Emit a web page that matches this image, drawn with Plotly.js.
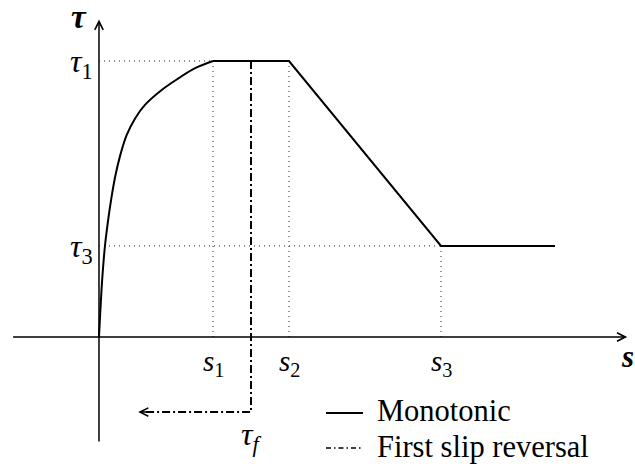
<!DOCTYPE html>
<html>
<head>
<meta charset="utf-8">
<script src="https://cdn.plot.ly/plotly-3.0.1.min.js"></script>
<style>
  html, body { margin: 0; padding: 0; background: #fff; }
  #chart { width: 635px; height: 468px; }
</style>
</head>
<body>
<div id="chart"></div>
<script>
// Bond stress (tau) versus slip (s): monotonic envelope and first slip reversal
// ascending branch up to s1
const riseS   = [0, 0.034, 0.087, 0.155, 0.235, 0.33, 0.435, 0.56, 0.73, 0.95, 1.21, 1.65, 2.09, 2.53, 3.0];
const riseTau = [0, 0.92, 2.14, 3.27, 4.18, 5.07, 5.87, 6.59, 7.32, 7.92, 8.41, 8.95, 9.37, 9.74, 10.0];
// plateau, softening branch and residual plateau
const restS   = [3.0, 5.0, 9.0, 12.0];
const restTau = [10.0, 10.0, 3.3, 3.3];

// characteristic slips and stresses
const s1 = 3.0, s2 = 5.0, s3 = 9.0;
const tau1 = 10.0, tau3 = 3.3;

// first slip reversal path (unload at s_f, then reverse to the left)
const revS   = [4.0, 4.0, 1.1];
const revTau = [10.0, -2.72, -2.72];
const revArrowTip = 1.03;

// axis extents
const sAxisFrom = -2.3, sAxisTo = 13.9;
const tauAxisFrom = -3.84, tauAxisTo = 11.5;

const FONT = '"Liberation Serif", "Times New Roman", "DejaVu Serif", serif';

const guideS = [0, s1, null, s1, s1, null, s2, s2, null, 0, s3, null, s3, s3];
const guideT = [tau1, tau1, null, 0, tau1, null, 0, tau1, null, tau3, tau3, null, 0, tau3];

const traces = [
  { x: guideS, y: guideT, mode: 'lines', name: 'guides', showlegend: false, hoverinfo: 'skip',
    line: { color: '#222', width: 1, dash: '1px,4px' } },
  { x: revS, y: revTau, mode: 'lines', name: 'First slip reversal', showlegend: false,
    line: { color: '#000', width: 2, dash: '8px,3px,2px,3px' } },
  { x: riseS, y: riseTau, mode: 'lines', name: 'Monotonic', showlegend: false,
    line: { color: '#000', width: 2, shape: 'spline', smoothing: 1 } },
  { x: restS, y: restTau, mode: 'lines', name: 'Monotonic', showlegend: false,
    line: { color: '#000', width: 2 } }
];

function arrow(x, y, ax, ay, w) {
  return { x: x, y: y, ax: ax, ay: ay, xref: 'x', yref: 'y', axref: 'x', ayref: 'y',
    text: '', showarrow: true, arrowhead: 5, arrowsize: 1.1, arrowwidth: w, arrowcolor: '#000', standoff: 0 };
}
function label(x, y, text, xa, size) {
  return { x: x, y: y, xref: 'x', yref: 'y', text: text, showarrow: false,
    xanchor: xa || 'center', yanchor: 'middle',
    font: { family: FONT, size: size || 29, color: '#000' } };
}

const annotations = [
  arrow(sAxisTo, 0, sAxisFrom, 0, 1.5),
  arrow(0, tauAxisTo, 0, tauAxisFrom, 1.5),
  arrow(revArrowTip, -2.72, 1.3, -2.72, 1.5),
  label(-0.52, 11.6, '<b><i>τ</i></b>', 'center', 33),
  label(13.92, -0.72, '<b><i>s</i></b>', 'center', 31),
  label(-0.1, tau1 - 0.1, '<i>τ</i><sub>1</sub>', 'right', 32),
  label(-0.1, tau3 - 0.1, '<i>τ</i><sub>3</sub>', 'right', 32),
  label(s1, -0.95, '<i>s</i><sub>1</sub>'),
  label(s2, -0.95, '<i>s</i><sub>2</sub>'),
  label(s3, -0.95, '<i>s</i><sub>3</sub>'),
  label(4.0, -3.62, '<i>τ</i><sub><i>f</i></sub>', 'center', 32),
  { x: 375 / 635, y: 1 - 411 / 468, xref: 'paper', yref: 'paper', text: 'Monotonic', showarrow: false,
    xanchor: 'left', yanchor: 'middle', font: { family: FONT, size: 30.5, color: '#000' } },
  { x: 375 / 635, y: 1 - 447 / 468, xref: 'paper', yref: 'paper', text: 'First slip reversal', showarrow: false,
    xanchor: 'left', yanchor: 'middle', font: { family: FONT, size: 30.5, color: '#000' } }
];

const shapes = [
  { type: 'line', xref: 'paper', yref: 'paper', x0: 326 / 635, x1: 363 / 635, y0: 1 - 413 / 468, y1: 1 - 413 / 468,
    line: { color: '#000', width: 2 } },
  { type: 'line', xref: 'paper', yref: 'paper', x0: 326 / 635, x1: 363 / 635, y0: 1 - 448 / 468, y1: 1 - 448 / 468,
    line: { color: '#000', width: 1.5, dash: '5px,3px,1.5px,3px' } }
];

const hidden = { showgrid: false, zeroline: false, showline: false, showticklabels: false, ticks: '', fixedrange: true };

const layout = {
  width: 635, height: 468,
  margin: { l: 0, r: 0, t: 0, b: 0, pad: 0 },
  paper_bgcolor: '#fff', plot_bgcolor: '#fff',
  showlegend: false,
  font: { family: FONT },
  xaxis: Object.assign({ range: [-2.605, 14.105] }, hidden),
  yaxis: Object.assign({ range: [-4.746, 12.21] }, hidden),
  annotations: annotations,
  shapes: shapes
};

Plotly.newPlot('chart', traces, layout, { displayModeBar: false, staticPlot: true });
</script>
</body>
</html>
